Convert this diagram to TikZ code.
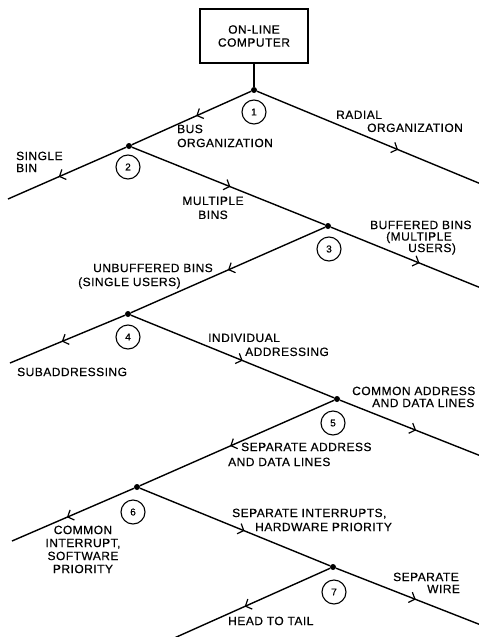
\documentclass[tikz,border=0pt]{standalone}
\usepackage{fontspec}
\setmainfont{Liberation Sans}
\newfontfamily\lblfamily[LetterSpace=4,FakeBold=0.5]{Liberation Sans}
\usetikzlibrary{arrows.meta,decorations.markings}
\tikzset{
  branch/.style={line width=1.4pt},
  arr/.style={postaction={decorate},decoration={markings,
      mark=at position #1 with {\arrow{Straight Barb[length=5pt,width=11pt,line width=1.2pt]}}}},
  junction/.style={circle, fill, inner sep=0pt, minimum size=6pt},
  numc/.style={circle, draw, line width=1.1pt, minimum size=24pt, inner sep=0pt,
      font=\lblfamily\fontsize{10}{10}\selectfont},
  lbl/.style={font=\lblfamily\fontsize{12}{#1}\selectfont, inner sep=0pt,
      anchor=north west, align=left},
  lbl/.default=14,
  lblc/.style={lbl=#1, anchor=north, align=center},
  lblc/.default=14,
}
\begin{document}
\begin{tikzpicture}[x=1pt,y=-1pt]
\useasboundingbox (0,0) rectangle (479,637);
% computer box
\node[draw, line width=1.4pt, minimum width=108pt, minimum height=54pt, inner sep=0pt,
      font=\lblfamily\fontsize{12}{13}\selectfont, align=center] (comp) at (254,36) {ON-LINE\\COMPUTER};
% junctions
\node[junction] (n1) at (254,90) {};
\node[junction] (n2) at (129,146) {};
\node[junction] (n3) at (328,226) {};
\node[junction] (n4) at (128,314) {};
\node[junction] (n5) at (337,399) {};
\node[junction] (n6) at (137,487) {};
\node[junction] (n7) at (333,567) {};
% free ends
\coordinate (eRad) at (481,184);
\coordinate (eSingle) at (8,199);
\coordinate (eBuf) at (481,288);
\coordinate (eSub) at (10,363);
\coordinate (eCom) at (481,456);
\coordinate (eCI) at (12,541);
\coordinate (eWire) at (481,625);
\coordinate (eHead) at (172,639);
% connectors
\draw[branch] (comp.south) -- (n1);
\draw[branch, arr=0.46] (n1) -- (n2);
\draw[branch, arr=0.63] (n1) -- (eRad);
\draw[branch, arr=0.57] (n2) -- (eSingle);
\draw[branch, arr=0.51] (n2) -- (n3);
\draw[branch, arr=0.59] (n3) -- (eBuf);
\draw[branch, arr=0.50] (n3) -- (n4);
\draw[branch, arr=0.55] (n4) -- (eSub);
\draw[branch, arr=0.55] (n4) -- (n5);
\draw[branch, arr=0.54] (n5) -- (eCom);
\draw[branch, arr=0.535] (n5) -- (n6);
\draw[branch, arr=0.55] (n6) -- (eCI);
\draw[branch, arr=0.55] (n6) -- (n7);
\draw[branch, arr=0.55] (n7) -- (eWire);
\draw[branch, arr=0.54] (n7) -- (eHead);
% numbered circles
\node[numc] (c1) at (254,112) {1};
\node[numc] (c2) at (128,167) {2};
\node[numc] (c3) at (329,249) {3};
\node[numc] (c4) at (128,337) {4};
\node[numc] (c5) at (333,423) {5};
\node[numc] (c6) at (133,512) {6};
\node[numc] (c7) at (334,592) {7};
% labels
\node[lbl] (tBus) at (177,124.5) {BUS\\ORGANIZATION};
\node[lbl=13] (tRad) at (336,110.5) {RADIAL\\\hspace*{31pt}ORGANIZATION};
\node[lbl=12] (tSingle) at (16,151.5) {SINGLE\\BIN};
\node[lblc] (tMult) at (213,196.5) {MULTIPLE\\BINS};
\node[lbl=11.5] (tBuf) at (370,220.5) {BUFFERED BINS\\\hspace*{16pt}(MULTIPLE\\\hspace*{38pt}USERS)};
\node[lbl] (tUnbuf) at (78,263.5) {\hspace*{15pt}UNBUFFERED BINS\\(SINGLE USERS)};
\node[lbl] (tSub) at (17,367.5) {SUBADDRESSING};
\node[lbl] (tInd) at (208,333.5) {INDIVIDUAL\\\hspace*{37pt}ADDRESSING};
\node[lbl=12] (tCom) at (352,386.5) {COMMON ADDRESS\\\hspace*{20pt}AND DATA LINES};
\node[lbl=15] (tSep) at (228,442.5) {\hspace*{13pt}SEPARATE ADDRESS\\AND DATA LINES};
\node[lblc=13] (tCI) at (83,525.5) {COMMON\\INTERRUPT,\\SOFTWARE\\PRIORITY};
\node[lbl] (tSI) at (232,508.5) {SEPARATE INTERRUPTS,\\\hspace*{23pt}HARDWARE PRIORITY};
\node[lbl=12] (tWire) at (393,572.5) {SEPARATE\\\hspace*{34pt}WIRE};
\node[lbl] (tHead) at (228,616.5) {HEAD TO TAIL};
\end{tikzpicture}
\end{document}
